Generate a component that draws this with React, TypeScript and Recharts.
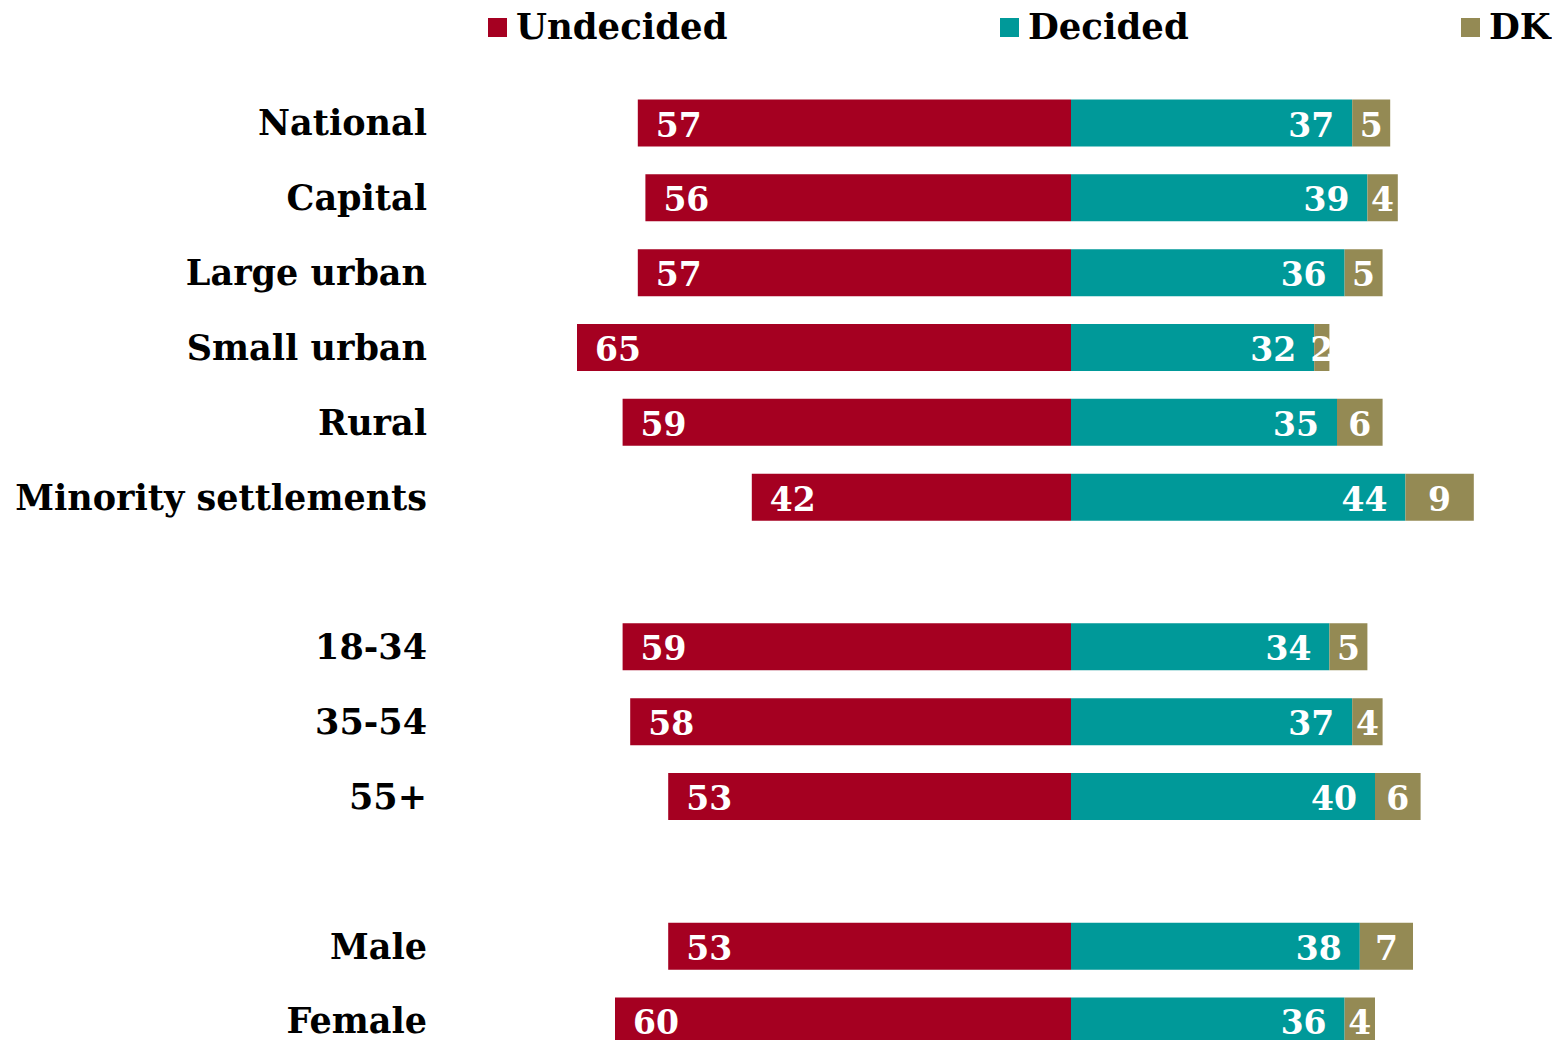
import { BarChart, Bar, XAxis, YAxis, Legend, LabelList } from "recharts";

const categories = [
  "National",
  "Capital",
  "Large urban",
  "Small urban",
  "Rural",
  "Minority settlements",
  "",
  "18-34",
  "35-54",
  "55+",
  "",
  "Male",
  "Female",
];
const undecided = [57, 56, 57, 65, 59, 42, null, 59, 58, 53, null, 53, 60];
const decided = [37, 39, 36, 32, 35, 44, null, 34, 37, 40, null, 38, 36];
const dk = [5, 4, 5, 2, 6, 9, null, 5, 4, 6, null, 7, 4];

const COLORS = { undecided: "#A50021", decided: "#009999", dk: "#948A54" };
const FONT = "'DejaVu Serif', serif";

// undecided goes to the left of zero
const data = categories.map((name, i) => ({
  name,
  undecided: undecided[i] == null ? null : -(undecided[i] as number),
  decided: decided[i],
  dk: dk[i],
}));

const CategoryTick = (props: any) => {
  const { x, y, payload } = props;
  return (
    <text x={x} y={y} textAnchor="end" dominantBaseline="central" fontFamily={FONT} fontWeight="bold" fontSize={35} fill="#000">
      {payload.value}
    </text>
  );
};

const makeLabel = (pos: "start" | "end" | "middle") => (props: any) => {
  const { x, y, width, height, value } = props;
  if (value == null) return null;
  const left = Math.min(x, x + width);
  const w = Math.abs(width);
  let tx = left + w / 2;
  if (pos === "start") tx = left + 18;
  if (pos === "end") tx = left + w - 18;
  return (
    <text x={tx} y={y + height / 2 + 2} textAnchor={pos} dominantBaseline="central" fontFamily={FONT} fontWeight="bold" fontSize={33} fill="#fff">
      {Math.abs(value)}
    </text>
  );
};

const legendItems = [
  { label: "Undecided", color: COLORS.undecided, x: 488 },
  { label: "Decided", color: COLORS.decided, x: 1000 },
  { label: "DK", color: COLORS.dk, x: 1461 },
];

const renderLegend = () => (
  <svg width={1552} height={60} style={{ display: "block" }}>
    {legendItems.map((it) => (
      <g key={it.label}>
        <rect x={it.x} y={18} width={19} height={19} fill={it.color} />
        <text x={it.x + 28} y={39} fontFamily={FONT} fontWeight="bold" fontSize={35.5} fill="#000">
          {it.label}
        </text>
      </g>
    ))}
  </svg>
);

export default function App() {
  return (
    <div style={{ position: "absolute", top: 0, left: 0, width: 1552, height: 1040, overflow: "hidden", background: "#fff" }}>
      <BarChart
        width={1552}
        height={1064}
        data={data}
        layout="vertical"
        stackOffset="sign"
        barSize={47}
        margin={{ top: 85.5, right: 25, bottom: 5.7, left: 0 }}
      >
        <XAxis type="number" domain={[-70, 60]} hide />
        <YAxis
          type="category"
          dataKey="name"
          width={539}
          axisLine={false}
          tickLine={false}
          tickSize={0}
          tickMargin={112}
          interval={0}
          tick={<CategoryTick />}
        />
        <Legend
          verticalAlign="top"
          content={renderLegend}
          wrapperStyle={{ top: 0, left: 0, width: 1552, height: 0, overflow: "visible" }}
        />
        <Bar dataKey="undecided" stackId="a" fill={COLORS.undecided} isAnimationActive={false}>
          <LabelList dataKey="undecided" content={makeLabel("start")} />
        </Bar>
        <Bar dataKey="decided" stackId="a" fill={COLORS.decided} isAnimationActive={false}>
          <LabelList dataKey="decided" content={makeLabel("end")} />
        </Bar>
        <Bar dataKey="dk" stackId="a" fill={COLORS.dk} isAnimationActive={false}>
          <LabelList dataKey="dk" content={makeLabel("middle")} />
        </Bar>
      </BarChart>
    </div>
  );
}
